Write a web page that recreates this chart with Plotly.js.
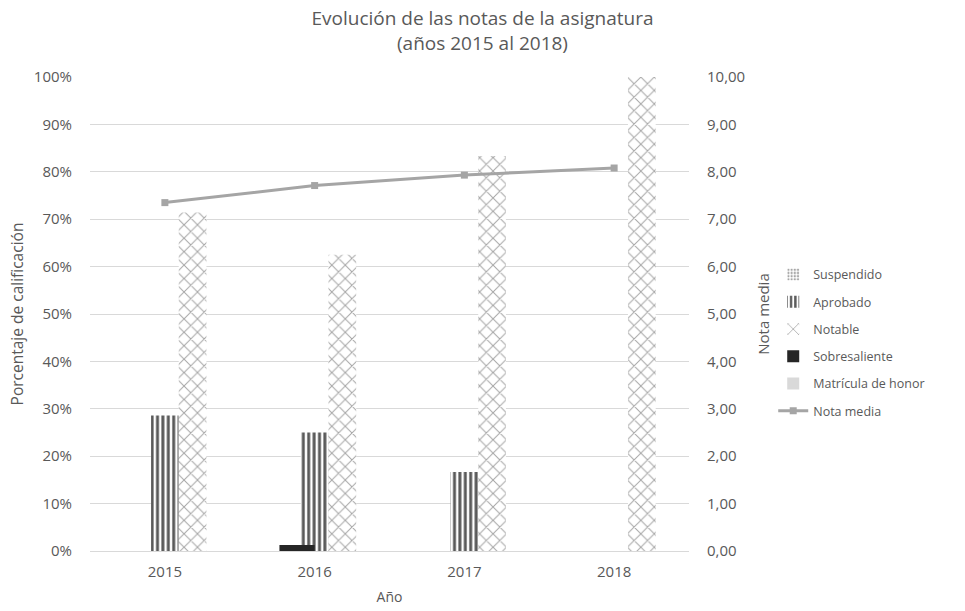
<!DOCTYPE html>
<html>
<head>
<meta charset="utf-8">
<script src="https://cdn.plot.ly/plotly-3.0.1.min.js"></script>
<style>
  html, body { margin: 0; padding: 0; background: #ffffff; }
  #chart { width: 965px; height: 611px; }
</style>
</head>
<body>
<div id="chart"></div>
<script>
// Años del curso
const years = ['2015', '2016', '2017', '2018'];

// Porcentaje de alumnos por calificación (eje izquierdo, %)
const suspendido = [0, 0, 0, 0];
const aprobado = [28.57, 25, 16.67, 0];
const notable = [71.43, 62.5, 83.33, 100];

// Series dibujadas sobre el eje secundario (fracción)
const sobresaliente = [0, 0.125, 0, 0];
const matricula = [0, 0, 0, 0];

// Nota media anual (eje derecho)
const notaMedia = [7.35, 7.71, 7.93, 8.08];

const grey = '#595959';
const FONT = 'Open Sans, sans-serif';
const TICK = 15;

const barW = 0.185;
const barW2 = 0.235;

const traces = [
  {
    type: 'bar', name: 'Suspendido', x: years, y: suspendido, legendgroup: 'g1',
    offset: -1.5 * barW, width: barW,
    marker: { color: '#ffffff', line: { width: 0 },
      pattern: { shape: '.', fgcolor: '#a6a6a6', bgcolor: '#ffffff', size: 4, solidity: 0.4 } }
  },
  {
    type: 'bar', name: 'Aprobado', x: years, y: aprobado, legendgroup: 'g2',
    offset: -0.5 * barW, width: barW,
    marker: { color: '#ffffff', line: { width: 0 },
      pattern: { shape: '|', fgcolor: '#5a5a5a', bgcolor: '#ffffff', size: 5.4, solidity: 0.55 } }
  },
  {
    type: 'bar', name: 'Notable', x: years, y: notable, legendgroup: 'g3',
    offset: 0.5 * barW, width: barW,
    marker: { color: '#ffffff', line: { width: 0 },
      pattern: { shape: 'x', fgcolor: '#a6a6a6', bgcolor: '#ffffff', size: 9.5, solidity: 0.2 } }
  },
  {
    type: 'bar', name: 'Sobresaliente', x: years, y: sobresaliente, yaxis: 'y2', legendgroup: 'g4',
    offset: -barW2, width: barW2,
    marker: { color: '#262626', line: { width: 0 } }
  },
  {
    type: 'bar', name: 'Matrícula de honor', x: years, y: matricula, yaxis: 'y2', legendgroup: 'g5',
    offset: 0, width: barW2,
    marker: { color: '#d9d9d9', line: { width: 0 } }
  },
  {
    type: 'scatter', mode: 'lines+markers', name: 'Nota media', x: years, y: notaMedia,
    yaxis: 'y2', legendgroup: 'g6',
    line: { color: '#a5a5a5', width: 3 },
    marker: { symbol: 'square', size: 7, color: '#a5a5a5' }
  }
];

const layout = {
  width: 965, height: 611,
  paper_bgcolor: '#ffffff', plot_bgcolor: '#ffffff',
  margin: { l: 90, r: 276, t: 77, b: 60 },
  separators: ',.',
  font: { family: FONT, color: grey, size: TICK },
  title: {
    text: 'Evolución de las notas de la asignatura<br>(años 2015 al 2018)',
    font: { family: FONT, size: 19, color: grey },
    x: 0.5, xref: 'container', xanchor: 'center',
    y: 0.965, yref: 'container', yanchor: 'top',
    pad: { t: 4 }
  },
  barmode: 'group',
  showlegend: true,
  legend: {
    x: 1.1406, xanchor: 'left', y: 0.614, yanchor: 'top',
    font: { family: FONT, size: 12.5, color: grey },
    tracegroupgap: 8, itemwidth: 30, bgcolor: 'rgba(0,0,0,0)'
  },
  xaxis: {
    type: 'category',
    showgrid: false, zeroline: false,
    showline: true, linecolor: '#d9d9d9', linewidth: 1,
    ticks: '', tickfont: { family: FONT, size: TICK, color: grey },
    ticklabelstandoff: 7,
    title: { text: 'Año', font: { family: FONT, size: 14, color: grey }, standoff: 12 }
  },
  yaxis: {
    range: [0, 100], dtick: 10, ticksuffix: '%',
    showgrid: true, gridcolor: '#d9d9d9', gridwidth: 1,
    zeroline: false, showline: false, ticks: '',
    tickfont: { family: FONT, size: TICK, color: grey },
    ticklabelstandoff: 17,
    title: { text: 'Porcentaje de calificación', font: { family: FONT, size: 15.5, color: grey }, standoff: 6 }
  },
  yaxis2: {
    overlaying: 'y', side: 'right',
    range: [0, 10], dtick: 1, tickformat: '.2f',
    showgrid: false, zeroline: false, showline: false, ticks: '',
    tickfont: { family: FONT, size: TICK, color: grey },
    ticklabelstandoff: 17,
    title: { text: 'Nota media', font: { family: FONT, size: 15, color: grey }, standoff: 14 }
  }
};

Plotly.newPlot('chart', traces, layout, { displayModeBar: false, staticPlot: true });
</script>
</body>
</html>
